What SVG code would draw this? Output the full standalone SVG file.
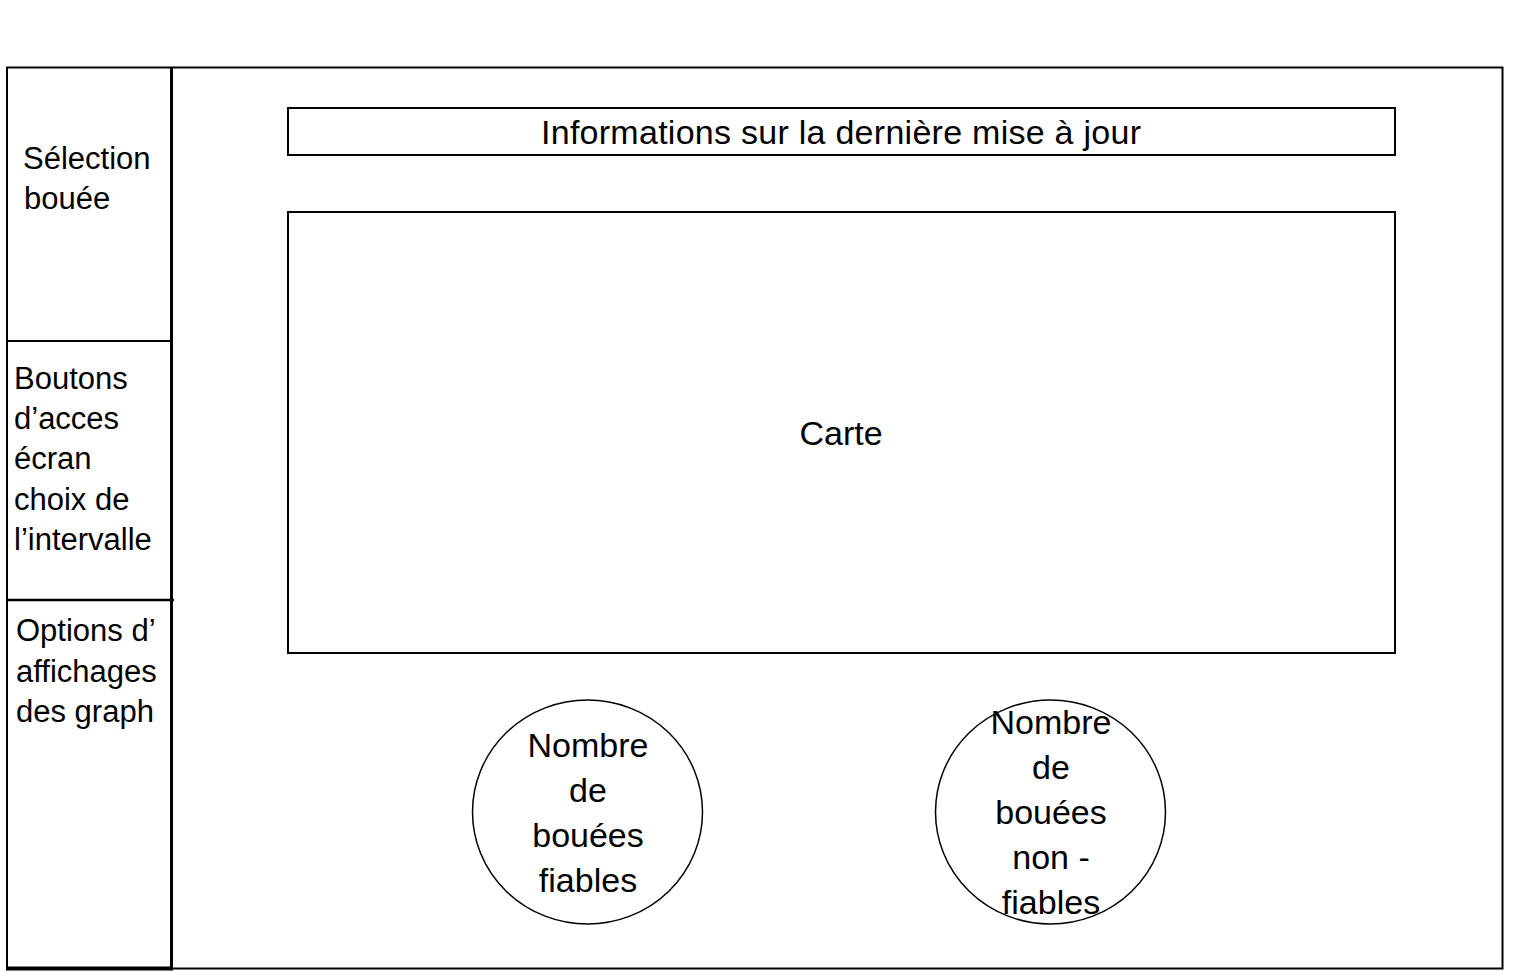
<svg xmlns="http://www.w3.org/2000/svg" width="1534" height="971" viewBox="0 0 1534 971">
<style>
.ln{fill:none;stroke:#000;stroke-width:2}
.t{font-family:"Liberation Sans",Arial,sans-serif;fill:#000}
.side{font-size:31px}
.main{font-size:34px;text-anchor:middle}
.bub{fill:none;stroke:#000;stroke-width:1.5}
</style>
<rect width="1534" height="971" fill="#fff"/>
<g id="frame">
<rect class="ln" x="7" y="67.5" width="1495.5" height="901"/>
</g>
<g id="sidebar">
<line x1="171.5" y1="67" x2="171.5" y2="969" stroke="#000" stroke-width="3"/>
<line x1="6" y1="341" x2="172" y2="341" stroke="#000" stroke-width="2"/>
<line x1="6" y1="600" x2="174" y2="600" stroke="#000" stroke-width="2.5"/>
<line x1="6" y1="968.5" x2="173" y2="968.5" stroke="#000" stroke-width="4"/>
</g>
<g id="selection-bouee">
<text class="t side" x="23" y="169">Sélection</text>
<text class="t side" x="24" y="209">bouée</text>
</g>
<g id="boutons">
<text class="t side" x="14" y="389">Boutons</text>
<text class="t side" x="14" y="429">d’acces</text>
<text class="t side" x="14" y="469">écran</text>
<text class="t side" x="14" y="510">choix de</text>
<text class="t side" x="14" y="550">l’intervalle</text>
</g>
<g id="options">
<text class="t side" x="16" y="641">Options d’</text>
<text class="t side" x="16" y="682">affichages</text>
<text class="t side" x="16" y="722">des graph</text>
</g>
<g id="informations">
<rect class="ln" x="288" y="108" width="1107" height="47"/>
<text class="t main" x="841" y="144" textLength="600" lengthAdjust="spacing">Informations sur la dernière mise à jour</text>
</g>
<g id="carte">
<rect class="ln" x="288" y="212" width="1107" height="441"/>
<text class="t main" x="841" y="445">Carte</text>
</g>
<g id="fiables">
<ellipse class="bub" cx="587.5" cy="812" rx="115" ry="112"/>
<text class="t main" x="588" y="757">Nombre</text>
<text class="t main" x="588" y="802">de</text>
<text class="t main" x="588" y="847">bouées</text>
<text class="t main" x="588" y="892">fiables</text>
</g>
<g id="non-fiables">
<ellipse class="bub" cx="1050.5" cy="812" rx="115" ry="112"/>
<text class="t main" x="1051" y="734">Nombre</text>
<text class="t main" x="1051" y="779">de</text>
<text class="t main" x="1051" y="824">bouées</text>
<text class="t main" x="1051" y="869">non -</text>
<text class="t main" x="1051" y="914">fiables</text>
</g>
<g id="connectors"></g>
</svg>
